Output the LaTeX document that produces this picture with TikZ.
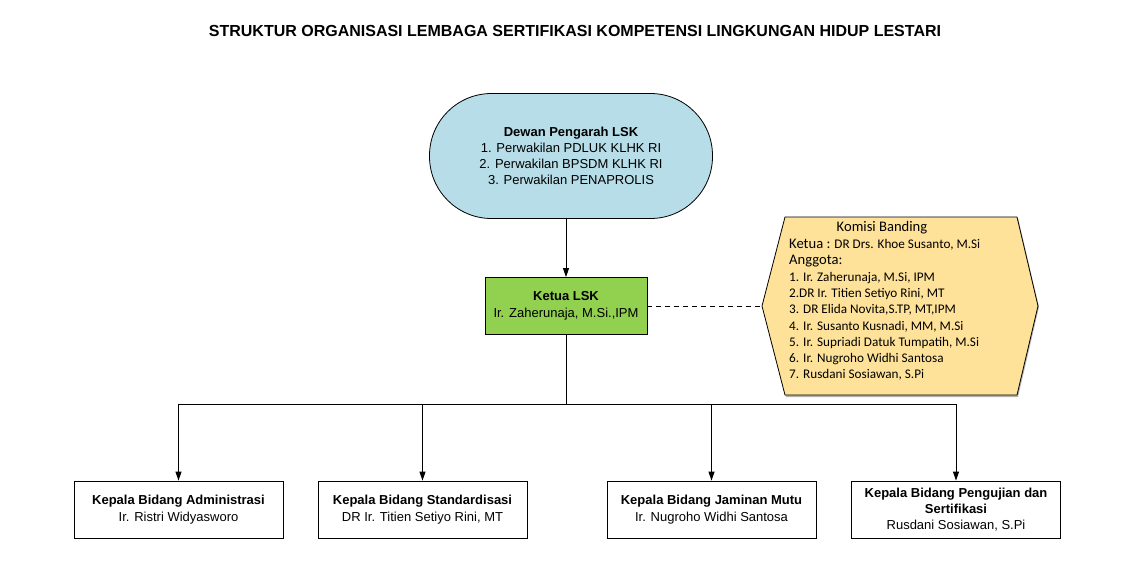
\documentclass[tikz,border=0pt]{standalone}
\usepackage{fontspec}
\setmainfont{Liberation Sans}
\newfontfamily\calib{Carlito}
\usetikzlibrary{arrows.meta}
\definecolor{dewanblue}{RGB}{182,221,232}
\definecolor{ketuagreen}{RGB}{146,208,80}
\definecolor{komisifill}{RGB}{255,226,153}
\tikzset{
  conn/.style={line width=1pt,draw=black},
  arr/.style={conn,-{Triangle[width=6pt,length=9pt]}},
  kbox/.style={draw=black,line width=0.8pt,fill=white,minimum width=209pt,minimum height=57pt,align=center,inner sep=2pt,font=\fontsize{13}{17}\selectfont},
  kline/.style={anchor=base west,inner sep=0pt,font=\calib\fontsize{13.2}{15}\selectfont},
}
\begin{document}
\begin{tikzpicture}[x=1pt,y=-1pt]
\useasboundingbox (0,0) rectangle (1121,574);
\node[font=\bfseries\fontsize{16}{18}\selectfont] (title) at (575,31) {STRUKTUR ORGANISASI LEMBAGA SERTIFIKASI KOMPETENSI LINGKUNGAN HIDUP LESTARI};
% Dewan
\node[draw=black,line width=0.8pt,fill=dewanblue,rounded corners=62pt,minimum width=283pt,minimum height=125pt,align=center,font=\fontsize{13}{16}\selectfont] (dewan) at (571,156)
 {\textbf{Dewan Pengarah LSK}\\1. Perwakilan PDLUK KLHK RI\\2. Perwakilan BPSDM KLHK RI\\3. Perwakilan PENAPROLIS};
% Ketua
\node[draw=black,line width=0.8pt,fill=ketuagreen,minimum width=162pt,minimum height=57pt,align=center,font=\fontsize{13}{17}\selectfont] (ketua) at (566,306)
 {\textbf{Ketua LSK}\\Ir. Zaherunaja, M.Si.,IPM};
% Komisi banding
\fill[gray!60] (763,307) -- (786,218) -- (1018,218) -- (1039,307) -- (1018,397) -- (786,397) -- cycle;
\draw[line width=0.8pt,fill=komisifill] (762,306) -- (785,217) -- (1017,217) -- (1038,306) -- (1017,395) -- (785,395) -- cycle;
\coordinate (kb) at (762,306);
\node[anchor=base,inner sep=0pt,font=\calib\fontsize{14.6}{16}\selectfont] (kt) at (882,231) {Komisi Banding};
\node[kline] (k0) at (789,248) {{\fontsize{14.6}{16}\selectfont Ketua :} DR Drs. Khoe Susanto, M.Si};
\node[kline,font=\calib\fontsize{14.6}{16}\selectfont] (ka) at (789,264) {Anggota:};
\node[kline] (k1) at (789,281) {1. Ir. Zaherunaja, M.Si, IPM};
\node[kline] (k2) at (789,297) {2.DR Ir. Titien Setiyo Rini, MT};
\node[kline] (k3) at (789,313) {3. DR Elida Novita,S.TP, MT,IPM};
\node[kline] (k4) at (789,330) {4. Ir. Susanto Kusnadi, MM, M.Si};
\node[kline] (k5) at (789,346) {5. Ir. Supriadi Datuk Tumpatih, M.Si};
\node[kline] (k6) at (789,362) {6. Ir. Nugroho Widhi Santosa};
\node[kline] (k7) at (789,378) {7. Rusdani Sosiawan, S.Pi};
% bottom boxes
\node[kbox] (b1) at (178.5,509.5) {\textbf{Kepala Bidang Administrasi}\\Ir. Ristri Widyasworo};
\node[kbox] (b2) at (422.5,509.5) {\textbf{Kepala Bidang Standardisasi}\\DR Ir. Titien Setiyo Rini, MT};
\node[kbox] (b3) at (711.5,509.5) {\textbf{Kepala Bidang Jaminan Mutu}\\Ir. Nugroho Widhi Santosa};
\node[kbox,font=\fontsize{13}{16}\selectfont] (b4) at (956,509.5) {\textbf{Kepala Bidang Pengujian dan}\\\textbf{Sertifikasi}\\Rusdani Sosiawan, S.Pi};
% connectors
\coordinate (bus) at (566,404);
\draw[arr] (dewan.south -| ketua.north) -- (ketua.north);
\draw[conn,dashed,dash pattern=on 5pt off 4pt] (ketua.east) -- (kb);
\draw[conn] (ketua.south) -- (bus);
\draw[conn] (b1.north |- bus) -- (b4.north |- bus);
\draw[arr] (b1.north |- bus) -- (b1.north);
\draw[arr] (b2.north |- bus) -- (b2.north);
\draw[arr] (b3.north |- bus) -- (b3.north);
\draw[arr] (b4.north |- bus) -- (b4.north);
\end{tikzpicture}
\end{document}
